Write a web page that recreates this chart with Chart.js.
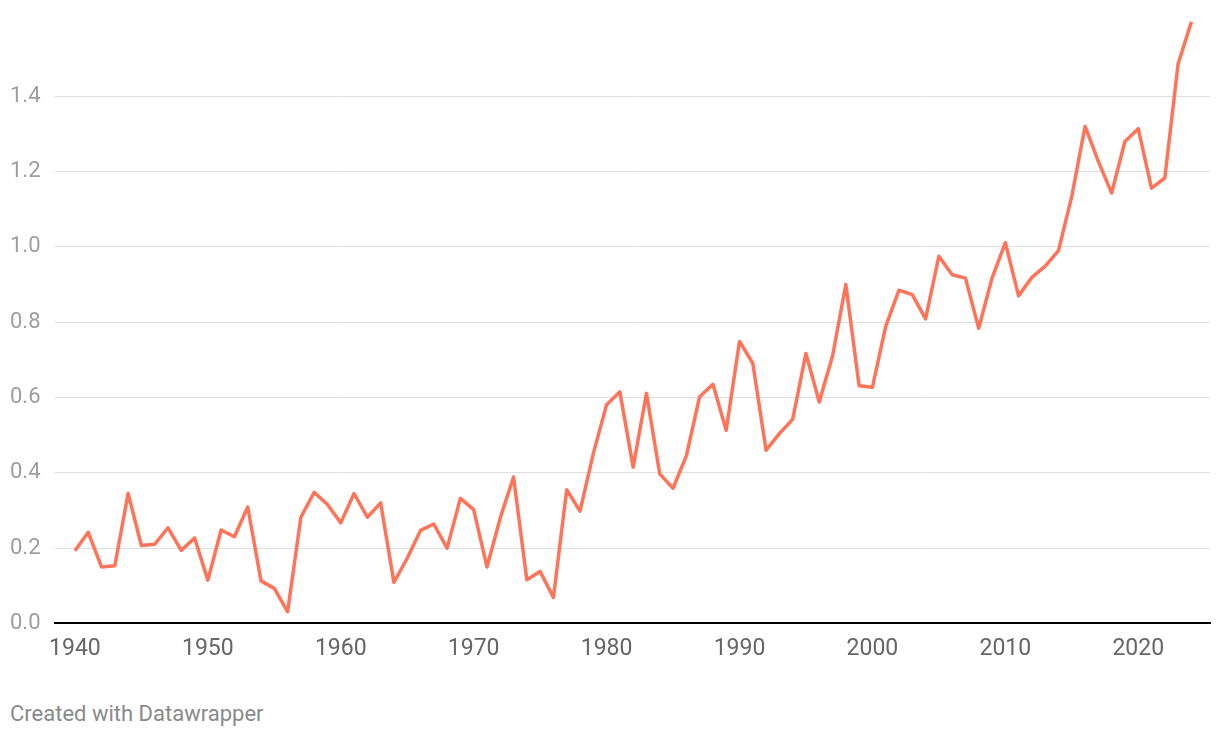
<!DOCTYPE html>
<html>
<head>
<meta charset="utf-8">
<script src="https://cdn.jsdelivr.net/npm/chart.js@4"></script>
<style>
  body { margin: 0; background: #fff; font-family: Roboto, sans-serif; }
  #wrap { position: relative; width: 1220px; height: 675px; }
  #footer { position: absolute; left: 10px; top: 701px; font-size: 22px; color: #8a8a8a; }
</style>
</head>
<body>
<div id="wrap"><canvas id="chart"></canvas></div>
<div id="footer">Created with Datawrapper</div>
<script>
// années et anomalies
const years = [
  1940, 1941, 1942, 1943, 1944, 1945, 1946, 1947, 1948, 1949,
  1950, 1951, 1952, 1953, 1954, 1955, 1956, 1957, 1958, 1959,
  1960, 1961, 1962, 1963, 1964, 1965, 1966, 1967, 1968, 1969,
  1970, 1971, 1972, 1973, 1974, 1975, 1976, 1977, 1978, 1979,
  1980, 1981, 1982, 1983, 1984, 1985, 1986, 1987, 1988, 1989,
  1990, 1991, 1992, 1993, 1994, 1995, 1996, 1997, 1998, 1999,
  2000, 2001, 2002, 2003, 2004, 2005, 2006, 2007, 2008, 2009,
  2010, 2011, 2012, 2013, 2014, 2015, 2016, 2017, 2018, 2019,
  2020, 2021, 2022, 2023, 2024
];
const values = [
  0.193, 0.242, 0.150, 0.153, 0.345, 0.207, 0.210, 0.254, 0.194, 0.227,
  0.115, 0.248, 0.230, 0.309, 0.113, 0.093, 0.031, 0.282, 0.348, 0.316,
  0.267, 0.345, 0.282, 0.320, 0.109, 0.173, 0.247, 0.264, 0.200, 0.332,
  0.302, 0.150, 0.280, 0.389, 0.116, 0.138, 0.069, 0.355, 0.298, 0.451,
  0.581, 0.615, 0.415, 0.611, 0.397, 0.359, 0.445, 0.602, 0.635, 0.513,
  0.749, 0.691, 0.460, 0.504, 0.542, 0.717, 0.588, 0.710, 0.900, 0.631,
  0.627, 0.789, 0.885, 0.873, 0.809, 0.975, 0.926, 0.917, 0.784, 0.917,
  1.011, 0.870, 0.919, 0.949, 0.990, 1.134, 1.320, 1.227, 1.143, 1.280,
  1.314, 1.156, 1.183, 1.486, 1.598
];
const xTicks = [1940, 1950, 1960, 1970, 1980, 1990, 2000, 2010, 2020];
const yTicks = [0, 0.2, 0.4, 0.6, 0.8, 1.0, 1.2, 1.4];

const points = years.map((y, i) => ({ x: y, y: values[i] }));

new Chart(document.getElementById("chart"), {
  type: "line",
  data: {
    datasets: [{
      data: points,
      borderColor: "#ff7359",
      borderWidth: 3.5,
      pointRadius: 0,
      tension: 0,
      borderJoinStyle: "round"
    }]
  },
  options: {
    responsive: true,
    maintainAspectRatio: false,
    animation: false,
    layout: { padding: { top: 21, right: 10, left: 10, bottom: 0 } },
    plugins: { legend: { display: false }, tooltip: { enabled: false } },
    scales: {
      x: {
        type: "linear",
        min: 1938.5,
        max: 2025.4,
        afterBuildTicks: scale => { scale.ticks = xTicks.map(v => ({ value: v })); },
        grid: { display: false, drawTicks: false },
        border: { color: "#000", width: 2 },
        ticks: {
          color: "#666666",
          font: { family: "Roboto", size: 23 },
          padding: 12,
          maxRotation: 0,
          callback: v => String(v)
        }
      },
      y: {
        min: 0,
        max: 1.6,
        afterBuildTicks: scale => { scale.ticks = yTicks.map(v => ({ value: v })); },
        afterFit: scale => { scale.width = 45; },
        grid: {
          drawTicks: false,
          color: ctx => ctx.tick.value === 0 ? "rgba(0,0,0,0)" : "#dedede",
          lineWidth: 1
        },
        border: { display: false },
        ticks: {
          color: "#9e9e9e",
          font: { family: "Roboto", size: 22 },
          padding: 0,
          crossAlign: "far",
          callback: v => v.toFixed(1)
        }
      }
    }
  }
});
</script>
</body>
</html>
